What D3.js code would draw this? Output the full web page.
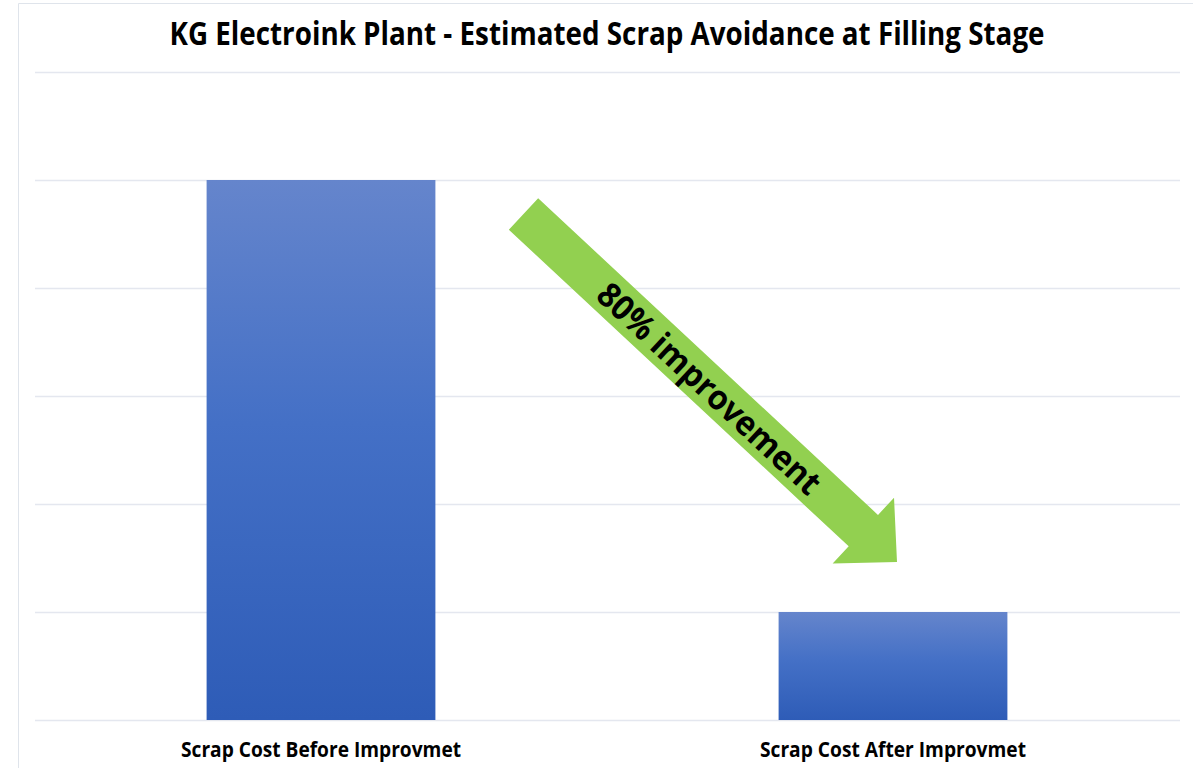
<!DOCTYPE html>
<html>
<head>
<meta charset="utf-8">
<script src="https://cdn.jsdelivr.net/npm/d3@7"></script>
<style>
  body { margin: 0; background: #fff; }
  text { font-family: "Liberation Sans Narrow", "Open Sans", Lato, sans-serif; }
</style>
</head>
<body>
<main></main>
<script>
// chart data
const categories = ["Scrap Cost Before Improvmet", "Scrap Cost After Improvmet"];
const values = [5, 1];
const gridTicks = [0, 1, 2, 3, 4, 5, 6];
const titleText = "KG Electroink Plant - Estimated Scrap Avoidance at Filling Stage";
const arrowText = "80% improvement";

const width = 1193;
const height = 768;

const svg = d3.select("main")
  .append("svg")
  .attr("width", width)
  .attr("height", height);

// bar gradient
const defs = svg.append("defs");
const grad = defs.append("linearGradient")
  .attr("id", "barGrad")
  .attr("x1", 0).attr("y1", 0).attr("x2", 0).attr("y2", 1);
grad.append("stop").attr("offset", "0%").attr("stop-color", "#6585cc");
grad.append("stop").attr("offset", "45%").attr("stop-color", "#4470c6");
grad.append("stop").attr("offset", "100%").attr("stop-color", "#2e5cb7");

// chart frame
svg.append("path")
  .attr("d", "M18.5," + height + "V3.5H" + width)
  .attr("fill", "none")
  .attr("stroke", "#dfe4eb")
  .attr("stroke-width", 1);

const xScale = d3.scaleBand()
  .domain(categories)
  .range([35, 1179])
  .paddingInner(0.6)
  .paddingOuter(0.3);

const yScale = d3.scaleLinear()
  .domain([0, 6])
  .range([720, 72]);

// gridlines
const grid = svg.append("g")
  .attr("transform", "translate(35,0)")
  .call(d3.axisLeft(yScale).tickValues(gridTicks).tickSize(-(1180 - 35)).tickFormat(""));
grid.select(".domain").remove();
grid.selectAll("line").attr("stroke", "#e4e7ef").attr("stroke-width", 1.5);

// bars
svg.selectAll("rect.bar")
  .data(values)
  .enter()
  .append("rect")
  .attr("class", "bar")
  .attr("x", (d, i) => xScale(categories[i]))
  .attr("y", d => yScale(d))
  .attr("width", xScale.bandwidth())
  .attr("height", d => yScale(0) - yScale(d))
  .attr("fill", "url(#barGrad)");

// category labels
const labelWidths = [280, 266];
svg.selectAll("text.cat")
  .data(categories)
  .enter()
  .append("text")
  .attr("class", "cat")
  .attr("x", d => xScale(d) + xScale.bandwidth() / 2)
  .attr("y", 757)
  .attr("text-anchor", "middle")
  .attr("font-size", 21)
  .attr("font-weight", "bold")
  .attr("fill", "#000")
  .attr("textLength", (d, i) => labelWidths[i])
  .attr("lengthAdjust", "spacingAndGlyphs")
  .text(d => d);

// title
svg.append("text")
  .attr("x", 607)
  .attr("y", 45)
  .attr("text-anchor", "middle")
  .attr("font-size", 32)
  .attr("font-weight", "bold")
  .attr("fill", "#000")
  .attr("textLength", 875)
  .attr("lengthAdjust", "spacingAndGlyphs")
  .text(titleText);

// arrow from the first bar down to the second
const tail = [523.5, 214];
const tip = [897, 562];
const ang = Math.atan2(tip[1] - tail[1], tip[0] - tail[0]) * 180 / Math.PI;
const len = Math.hypot(tip[0] - tail[0], tip[1] - tail[1]);
const shaftW = 21.5, headW = 45, headL = 46;

const arrow = svg.append("g")
  .attr("transform", "translate(" + tail[0] + "," + tail[1] + ") rotate(" + ang + ")");

arrow.append("path")
  .attr("d", d3.line()([
    [0, -shaftW], [len - headL, -shaftW], [len - headL, -headW],
    [len, 0], [len - headL, headW], [len - headL, shaftW], [0, shaftW]
  ]) + "Z")
  .attr("fill", "#92d050");

arrow.append("text")
  .attr("x", 255)
  .attr("y", 13)
  .attr("text-anchor", "middle")
  .attr("font-size", 34)
  .attr("font-weight", "bold")
  .attr("fill", "#000")
  .style("font-family", "'Open Sans', sans-serif")
  .attr("textLength", 292)
  .attr("lengthAdjust", "spacingAndGlyphs")
  .text(arrowText);
</script>
</body>
</html>
